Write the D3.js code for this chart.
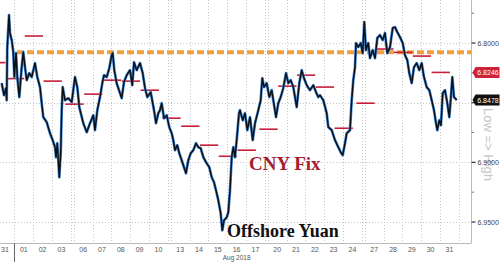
<!DOCTYPE html>
<html>
<head>
<meta charset="utf-8">
<script src="https://cdn.jsdelivr.net/npm/d3@7"></script>
<style>
  body { margin: 0; background: #fff; }
  svg { display: block; font-family: "Liberation Sans", Arial, sans-serif; }
</style>
</head>
<body>
<svg id="chart" width="500" height="262"></svg>
<script>
const width = 500;
const height = 262;
const plot = { right: 471.5, bottom: 243 };

// trading days on the axis (weekends squeezed to a small gap)
const dates = ["2018-07-31","2018-08-01","2018-08-02","2018-08-03","2018-08-06","2018-08-07",
  "2018-08-08","2018-08-09","2018-08-10","2018-08-13","2018-08-14","2018-08-15","2018-08-16",
  "2018-08-17","2018-08-20","2018-08-21","2018-08-22","2018-08-23","2018-08-24","2018-08-27",
  "2018-08-28","2018-08-29","2018-08-30","2018-08-31"];

// PBOC daily fixing, one per trading day
const cnyFix = [6.8164, 6.8298, 6.7941, 6.8319, 6.8512, 6.8428, 6.8311, 6.8319, 6.8395,
  6.8630, 6.8697, 6.8856, 6.8949, 6.8898, 6.8722, 6.8361, 6.8269, 6.8369, 6.8714,
  6.8504, 6.8050, 6.8078, 6.8109, 6.8246];

// offshore yuan, time in axis sessions (weekend gaps included), value in CNH per USD
const cnhTime = [0.324,0.447,0.553,0.590,0.622,0.713,0.766,0.856,0.941,0.995,1.085,1.154,1.261,1.388,
  1.473,1.564,1.654,1.793,1.920,2.096,2.218,2.362,2.452,2.537,2.718,2.894,3.037,3.160,3.213,3.282,
  3.388,3.463,3.516,3.569,3.691,3.867,4.048,4.223,4.346,4.452,4.665,4.846,5.021,5.197,5.287,5.410,
  5.553,5.676,5.766,5.910,6.048,6.176,6.229,6.314,6.441,6.564,6.707,6.830,6.973,7.149,7.271,7.362,
  7.505,7.681,7.824,7.947,8.069,8.250,8.426,8.532,8.654,8.745,8.835,8.957,9.101,9.239,9.367,9.452,
  9.543,9.665,9.771,9.899,10.021,10.128,10.250,10.378,10.516,10.660,10.782,10.910,11.048,11.229,
  11.367,11.495,11.617,11.723,11.846,11.973,12.059,12.149,12.293,12.378,12.468,12.559,12.644,12.734,
  12.824,12.947,13.000,13.144,13.266,13.388,13.532,13.676,13.798,13.973,14.101,14.186,14.277,14.420,
  14.559,14.686,14.771,14.915,15.037,15.165,15.303,15.447,15.569,15.697,15.835,16.016,16.154,16.282,
  16.404,16.548,16.723,16.899,17.043,17.165,17.255,17.431,17.612,17.697,17.878,18.053,18.229,18.356,
  18.463,18.585,18.676,18.851,18.941,19.027,19.117,19.170,19.293,19.420,19.527,19.612,19.702,19.824,
  19.915,20.059,20.181,20.303,20.447,20.590,20.713,20.835,20.979,21.122,21.245,21.367,21.511,21.654,
  21.777,21.899,22.005,22.133,22.255,22.399,22.537,22.665,22.787,22.931,23.069,23.197,23.319,23.426,
  23.495,23.601,23.691,23.782,23.904,24.027,24.133,24.207,24.293,24.383,24.527];
const cnhValue = [6.8336,6.8437,6.8378,6.8479,6.8034,6.7765,6.7916,6.7975,6.8076,6.8285,6.8084,6.8285,
  6.8453,6.8202,6.8076,6.8202,6.8311,6.8252,6.8285,6.8168,6.8285,6.8369,6.8504,6.8621,6.8663,6.8756,
  6.8814,6.8873,6.8957,6.8840,6.9125,6.8924,6.8563,6.8369,6.8479,6.8462,6.8495,6.8285,6.8369,6.8537,
  6.8672,6.8747,6.8672,6.8605,6.8730,6.8563,6.8453,6.8336,6.8269,6.8285,6.8210,6.8101,6.8084,6.8227,
  6.8336,6.8395,6.8462,6.8327,6.8269,6.8227,6.8353,6.8160,6.8227,6.8168,6.8252,6.8378,6.8453,6.8411,
  6.8563,6.8672,6.8588,6.8563,6.8504,6.8630,6.8605,6.8705,6.8756,6.8814,6.8898,6.8856,6.8924,6.8982,
  6.9041,6.9092,6.8982,6.8924,6.8898,6.8840,6.8873,6.8882,6.8957,6.9008,6.9041,6.9125,6.9167,6.9234,
  6.9318,6.9427,6.9570,6.9486,6.9461,6.9419,6.9234,6.8957,6.8873,6.8957,6.8814,6.8588,6.8563,6.8647,
  6.8588,6.8730,6.8621,6.8814,6.8672,6.8563,6.8479,6.8294,6.8369,6.8336,6.8453,6.8395,6.8479,6.8621,
  6.8504,6.8453,6.8378,6.8252,6.8336,6.8311,6.8369,6.8537,6.8336,6.8227,6.8294,6.8353,6.8395,6.8353,
  6.8411,6.8453,6.8437,6.8479,6.8588,6.8705,6.8730,6.8814,6.8873,6.8915,6.8940,6.8840,6.8756,6.8730,
  6.8479,6.8311,6.8202,6.8000,6.8034,6.8000,6.8084,6.7824,6.8059,6.8000,6.8126,6.8059,6.8126,6.7958,
  6.7933,6.7975,6.7916,6.8084,6.8034,6.7874,6.7866,6.7908,6.7950,6.8000,6.8101,6.8143,6.8252,6.8336,
  6.8202,6.8168,6.8227,6.8168,6.8285,6.8369,6.8395,6.8479,6.8563,6.8672,6.8730,6.8647,6.8688,6.8420,
  6.8395,6.8504,6.8621,6.8479,6.8285,6.8453,6.8478];

// orange reference level
const refLevel = 6.8076;
const refStart = 1.138;

const yTicks = [6.80, 6.85, 6.90, 6.95];
const yMinor = [6.775, 6.825, 6.875, 6.925];

const weekendGap = 0.16;

// position of each trading day on the session axis
const parse = d3.timeParse("%Y-%m-%d");
let gaps = 0;
const dayStart = dates.map((s, i) => {
  if (i > 0 && parse(s).getDay() === 1) gaps++;
  return i + gaps * weekendGap;
});

const x = d3.scaleLinear().domain([0.234, 25.314]).range([0, plot.right]);
const y = d3.scaleLinear().domain([6.7639, 6.9676]).range([0, plot.bottom]);

const svg = d3.select("#chart");

// grid
const grid = svg.append("g").attr("stroke", "#c4c4c4").attr("stroke-dasharray", "1,2");
const bounds = [];
dayStart.forEach(d => { bounds.push(d); bounds.push(d + 1); });
grid.selectAll("line.v")
  .data(bounds.filter(b => x(b) > 0 && x(b) < plot.right))
  .join("line")
    .attr("x1", d => Math.round(x(d)) + 0.5).attr("x2", d => Math.round(x(d)) + 0.5)
    .attr("y1", 0).attr("y2", plot.bottom);
grid.selectAll("line.h")
  .data(yTicks)
  .join("line")
    .attr("x1", 0).attr("x2", plot.right)
    .attr("y1", d => Math.round(y(d)) + 0.5).attr("y2", d => Math.round(y(d)) + 0.5);

// frame
svg.append("line").attr("x1", 0).attr("x2", plot.right).attr("y1", plot.bottom + 0.5).attr("y2", plot.bottom + 0.5)
  .attr("stroke", "#bbb");
svg.append("line").attr("x1", plot.right).attr("x2", plot.right).attr("y1", 0).attr("y2", plot.bottom)
  .attr("stroke", "#bbb");

// orange dashed level
svg.append("line")
  .attr("x1", x(refStart)).attr("x2", plot.right)
  .attr("y1", y(refLevel)).attr("y2", y(refLevel))
  .attr("stroke", "#f0a03c").attr("stroke-width", 4).attr("stroke-dasharray", "7,3");

// CNY fix segments, each shown from the evening before the trading day
svg.append("g").attr("stroke", "#c41e3a").attr("stroke-width", 1.6)
  .selectAll("line")
  .data(cnyFix)
  .join("line")
    .attr("x1", (d, i) => Math.max(0, x(dayStart[i] - 0.45)))
    .attr("x2", (d, i) => x(dayStart[i] + 0.55) - 0.5)
    .attr("y1", d => y(d)).attr("y2", d => y(d));

// offshore yuan line
const series = cnhTime.map((t, i) => [t, cnhValue[i]]);
const line = d3.line().x(d => x(d[0])).y(d => y(d[1]));
svg.append("path").datum(series).attr("d", line)
  .attr("fill", "none").attr("stroke", "#4a8fd8").attr("stroke-width", 2.8).attr("stroke-linejoin", "round");
svg.append("path").datum(series).attr("d", line)
  .attr("fill", "none").attr("stroke", "#0b0f16").attr("stroke-width", 1.5).attr("stroke-linejoin", "round");

// annotations
svg.append("text").attr("x", 249).attr("y", 170)
  .attr("font-family", "'Liberation Serif', 'Times New Roman', serif").attr("font-weight", "bold")
  .attr("font-size", 19).attr("fill", "#a51c30").text("CNY Fix");
svg.append("text").attr("x", 227).attr("y", 237)
  .attr("font-family", "'Liberation Serif', 'Times New Roman', serif").attr("font-weight", "bold")
  .attr("font-size", 18).attr("fill", "#111").text("Offshore Yuan");

// right axis
svg.append("text")
  .attr("transform", `translate(484,108) rotate(90)`)
  .attr("text-anchor", "start").attr("font-size", 13).attr("fill", "#c4c4c4")
  .text("Low => High");

// last value tags
const tags = [
  { v: cnyFix[cnyFix.length - 1], c: "#d0213b" },
  { v: cnhValue[cnhValue.length - 1], c: "#111" }
];

const ax = svg.append("g");
ax.selectAll("line.maj").data(yTicks).join("line")
  .attr("x1", plot.right).attr("x2", plot.right + 4)
  .attr("y1", d => y(d)).attr("y2", d => y(d)).attr("stroke", "#333").attr("stroke-width", 1.2);
ax.selectAll("line.min").data(yMinor).join("line")
  .attr("x1", plot.right).attr("x2", plot.right + 2.5)
  .attr("y1", d => y(d)).attr("y2", d => y(d)).attr("stroke", "#777");
// tick labels hidden behind a value tag are left out
ax.selectAll("text")
  .data(yTicks.filter(t => tags.every(g => Math.abs(y(g.v) - y(t)) > 9)))
  .join("text")
  .attr("x", plot.right + 6).attr("y", d => y(d) + 2.5)
  .attr("font-size", 7).attr("fill", "#444")
  .text(d => d3.format(".4f")(d));

const tag = svg.append("g").selectAll("g").data(tags).join("g")
  .attr("transform", d => `translate(${plot.right + 1},${y(d.v)})`);
tag.append("path").attr("d", "M0,0 L3,-5.5 H27 V5.5 H3 Z").attr("fill", d => d.c);
tag.append("text").attr("x", 15.5).attr("y", 2.5).attr("text-anchor", "middle")
  .attr("font-size", 7).attr("fill", "#fff").text(d => d3.format(".4f")(d.v));

// x axis labels
svg.append("g").selectAll("text").data(dates).join("text")
  .attr("x", (d, i) => x(dayStart[i] + 0.5)).attr("y", 251.5)
  .attr("text-anchor", "middle").attr("font-size", 7).attr("fill", "#555")
  .text(d => d3.timeFormat("%d")(parse(d)));
svg.append("line")
  .attr("x1", Math.round(x(dayStart[1])) + 0.5).attr("x2", Math.round(x(dayStart[1])) + 0.5)
  .attr("y1", plot.bottom).attr("y2", height).attr("stroke", "#666");
svg.append("text").attr("x", x(dayStart[12] + 0.5)).attr("y", 260)
  .attr("text-anchor", "middle").attr("font-size", 6.5).attr("fill", "#555").text("Aug 2018");
</script>
</body>
</html>
